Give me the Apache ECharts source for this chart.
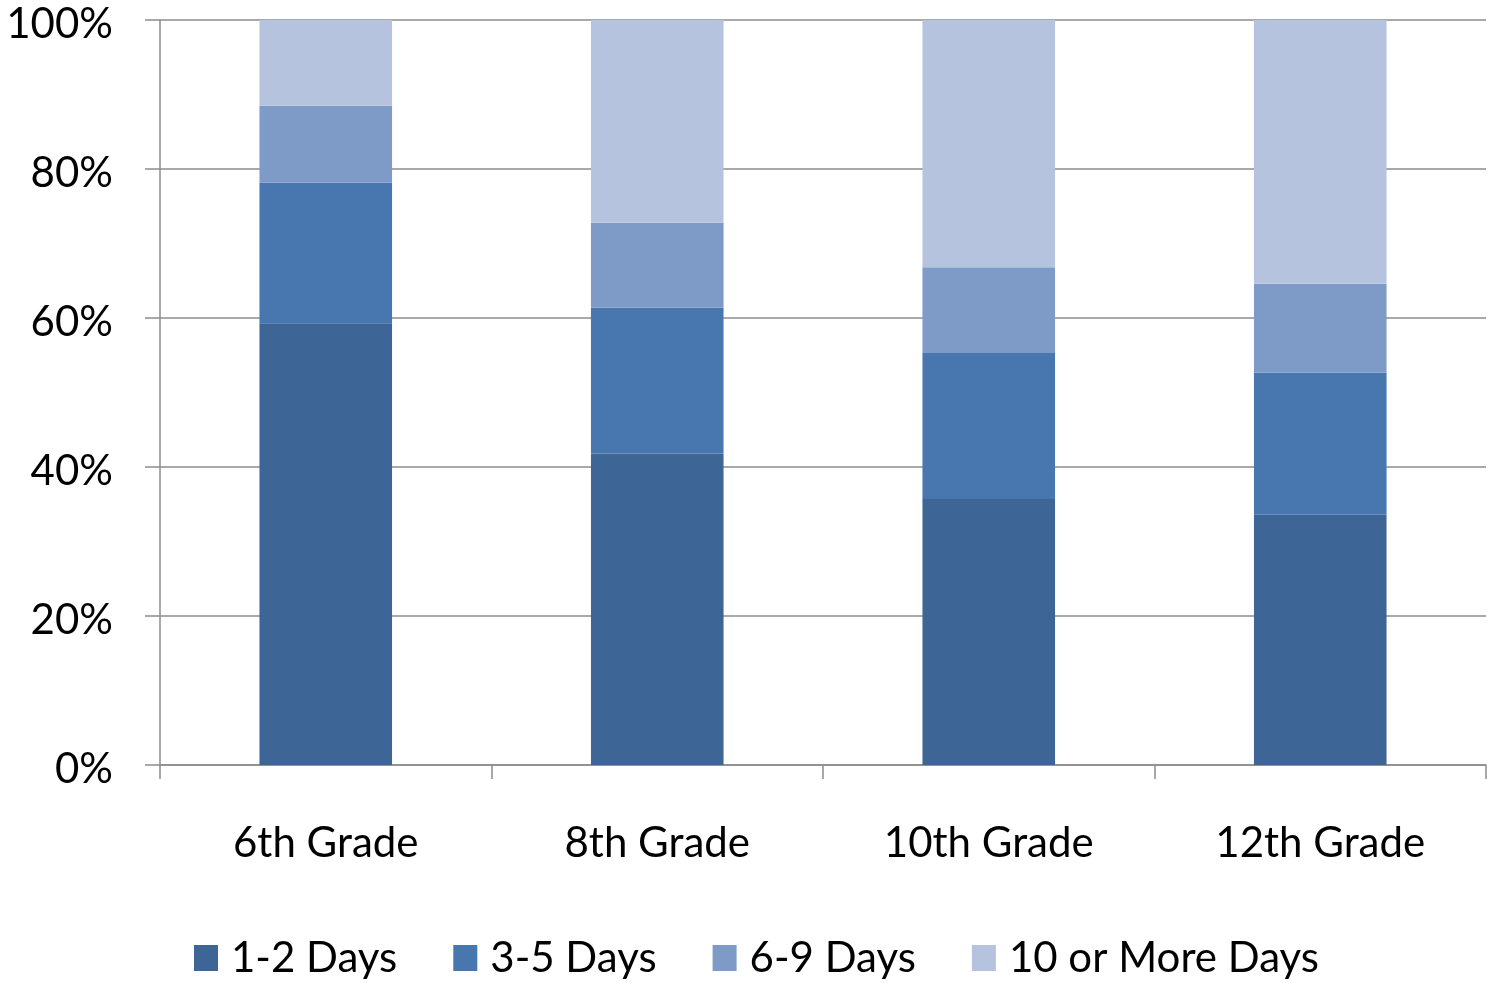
<!DOCTYPE html>
<html>
<head>
<meta charset="utf-8">
<script src="https://cdn.jsdelivr.net/npm/echarts@6/dist/echarts.min.js"></script>
<style>
  html, body { margin: 0; padding: 0; background: #ffffff; }
  #chart { width: 1487px; height: 983px; }
</style>
</head>
<body>
<div id="chart"></div>
<script>
// Share of students by number of days, per grade (percent of each grade)
const grades = ['6th Grade', '8th Grade', '10th Grade', '12th Grade'];
const seriesNames = ['1-2 Days', '3-5 Days', '6-9 Days', '10 or More Days'];
const days1to2 = [59.3, 41.8, 35.7, 33.6];
const days3to5 = [18.9, 19.6, 19.6, 19.1];
const days6to9 = [10.3, 11.4, 11.5, 11.9];
const days10plus = [11.5, 27.2, 33.2, 35.4];
const yTicks = [0, 20, 40, 60, 80, 100];

const colors = ['#3d6596', '#4877b0', '#7e9bc8', '#b6c3de'];
const valueSets = [days1to2, days3to5, days6to9, days10plus];
const fontFamily = 'Lato, "Open Sans", sans-serif';

const chart = echarts.init(document.getElementById('chart'), null, { renderer: 'canvas' });

chart.setOption({
  animation: false,
  backgroundColor: '#ffffff',
  color: colors,
  grid: {
    left: 160, right: 1, top: 20, bottom: 218,
    containLabel: false,
    outerBoundsMode: 'none'
  },
  legend: {
    data: seriesNames,
    left: 194,
    top: 937,
    padding: 0,
    orient: 'horizontal',
    itemWidth: 24,
    itemHeight: 26,
    itemGap: 56,
    icon: 'rect',
    textStyle: { fontFamily: fontFamily, fontSize: 42, color: '#000000', padding: [0, 0, 0, 8] }
  },
  xAxis: {
    type: 'category',
    data: grades,
    boundaryGap: true,
    axisLine: { show: true, lineStyle: { color: '#8c8c8c', width: 1.5 } },
    axisTick: { show: true, length: 14, lineStyle: { color: '#8c8c8c', width: 1.5 } },
    axisLabel: { fontFamily: fontFamily, fontSize: 42, color: '#000000', margin: 57 },
    splitLine: { show: false }
  },
  yAxis: {
    type: 'value',
    min: yTicks[0],
    max: yTicks[yTicks.length - 1],
    interval: yTicks[1] - yTicks[0],
    axisLine: { show: true, lineStyle: { color: '#8c8c8c', width: 1.5 } },
    axisTick: { show: true, length: 15, lineStyle: { color: '#8c8c8c', width: 1.5 } },
    axisLabel: {
      fontFamily: fontFamily, fontSize: 42, color: '#000000', margin: 47,
      formatter: v => '{p|' + v + '%}',
      rich: {
        p: { fontFamily: fontFamily, fontSize: 42, color: '#000000', padding: [8, 0, 0, 0] }
      }
    },
    splitLine: { show: true, lineStyle: { color: '#8c8c8c', width: 1.5 } }
  },
  series: seriesNames.map((name, i) => ({
    name: name,
    type: 'bar',
    stack: 'total',
    barWidth: '40%',
    data: valueSets[i],
    itemStyle: { color: colors[i] },
    emphasis: { disabled: true }
  }))
});
</script>
</body>
</html>
